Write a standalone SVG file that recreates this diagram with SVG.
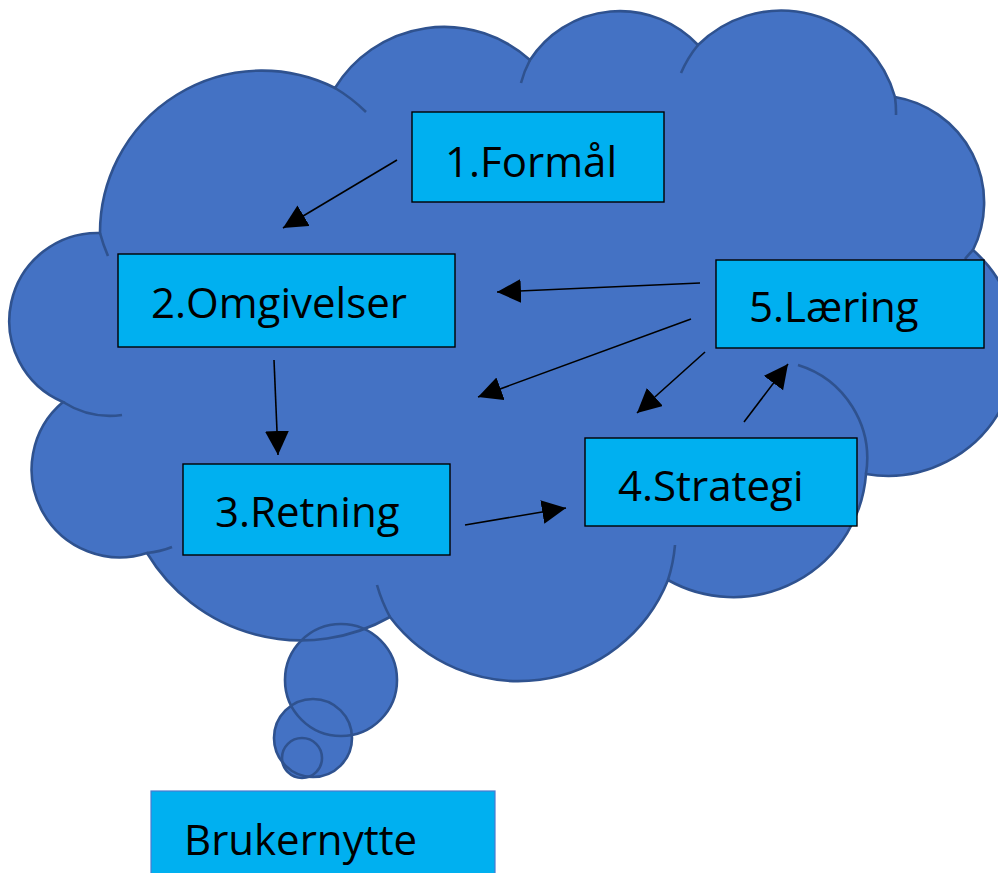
<svg xmlns="http://www.w3.org/2000/svg" xmlns:xlink="http://www.w3.org/1999/xlink" width="998" height="873" viewBox="0 0 998 873">
<style>
.cloud-fill{fill:#4472C4;stroke:none}
.cloud-line{fill:none;stroke:#2F528F;stroke-width:2.6}
.box{fill:#00B0F0;stroke:#000;stroke-width:1.4}
.box2{fill:#00B0F0;stroke:#4A7BD0;stroke-width:1.2}
.lbl{font-family:"Open Sans","Liberation Sans",sans-serif;font-size:42px;fill:#000}
.arr{stroke:#000;stroke-width:1.6;fill:none;marker-end:url(#head)}
</style>
<defs>
<marker id="head" markerUnits="userSpaceOnUse" markerWidth="26" markerHeight="26" refX="24" refY="12" orient="auto">
<path d="M0,0 L24,12 L0,24 Z" fill="#000"/>
</marker>
<path id="cloudPath" d="M63,402 A88,88 0 0 1 100,233 A162,162 0 0 1 335,88 A128,128 0 0 1 530,60 A107,107 0 0 1 698,45 A118,118 0 0 1 895,97 A107,107 0 0 1 973,250 A129,129 0 0 1 866,474 A133,133 0 0 1 668,580 A161,161 0 0 1 390,617 A180,180 0 0 1 147,553 A88,88 0 0 1 63,402 Z"/>
</defs>
<rect width="998" height="873" fill="#fff"/>
<g id="cloud">
<use xlink:href="#cloudPath" class="cloud-fill"/>
<circle cx="341" cy="680" r="56" class="cloud-fill"/>
<circle cx="313" cy="738" r="39" class="cloud-fill"/>
<circle cx="302" cy="758" r="20" class="cloud-fill"/>
<use xlink:href="#cloudPath" class="cloud-line"/>
<path class="cloud-line" d="M100,233 A162,162 0 0 0 108,256 M335,88 A162,162 0 0 1 366,112 M530,60 A107,107 0 0 0 521,83 M698,45 A118,118 0 0 0 681,73 M895,97 A118,118 0 0 1 896,115 M973,250 A129,129 0 0 0 965,259 M798,365 A98,98 0 0 1 866,474 M668,580 A161,161 0 0 0 675,545 M390,617 A161,161 0 0 1 377,585 M147,553 A88,88 0 0 0 172,547 M63,402 A88,88 0 0 0 122,415"/>
<circle cx="341" cy="680" r="56" class="cloud-line"/>
<circle cx="313" cy="738" r="39" class="cloud-line"/>
<circle cx="302" cy="758" r="20" class="cloud-line"/>
</g>
<g id="connectors">
<line class="arr" x1="397" y1="160" x2="283" y2="228"/>
<line class="arr" x1="274" y1="360" x2="278" y2="455"/>
<line class="arr" x1="465" y1="525" x2="566" y2="508"/>
<line class="arr" x1="700" y1="283" x2="497" y2="292"/>
<line class="arr" x1="691" y1="319" x2="478" y2="397"/>
<line class="arr" x1="705" y1="352" x2="637" y2="413"/>
<line class="arr" x1="744" y1="422" x2="788" y2="364"/>
</g>
<g id="n1"><rect class="box" x="412" y="112" width="252" height="90"/><text class="lbl" x="445" y="177">1.Formål</text></g>
<g id="n2"><rect class="box" x="118" y="254" width="337" height="93"/><text class="lbl" x="151" y="318">2.Omgivelser</text></g>
<g id="n3"><rect class="box" x="183" y="464" width="267" height="91"/><text class="lbl" x="215" y="527">3.Retning</text></g>
<g id="n4"><rect class="box" x="585" y="438" width="272" height="88"/><text class="lbl" x="618" y="501">4.Strategi</text></g>
<g id="n5"><rect class="box" x="716" y="260" width="268" height="88"/><text class="lbl" x="749" y="322">5.Læring</text></g>
<g id="n6"><rect class="box2" x="151" y="791" width="344" height="100"/><text class="lbl" x="184" y="855">Brukernytte</text></g>
</svg>
